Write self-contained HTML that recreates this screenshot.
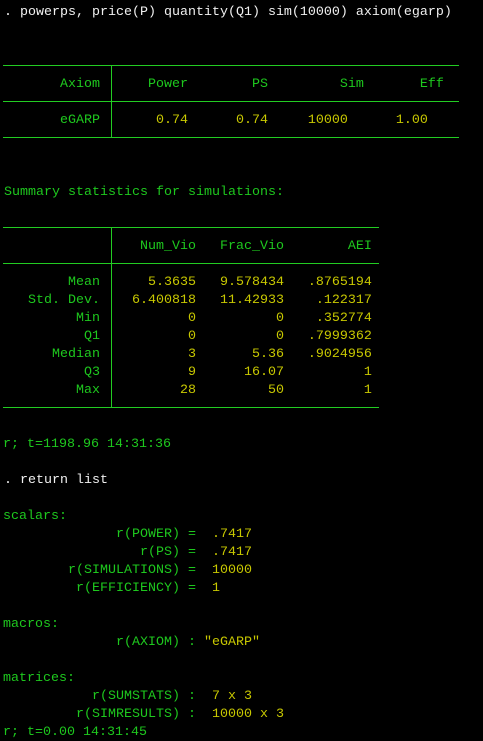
<!DOCTYPE html>
<html><head><meta charset="utf-8">
<style>
html,body{margin:0;padding:0;background:#000;width:483px;height:741px;overflow:hidden}
.c{position:relative;width:483px;height:741px;background:#000}
.l{position:absolute;left:4px;margin:0;padding-top:2px;white-space:pre;font-family:"Liberation Mono",monospace;font-size:13.33px;line-height:18px;height:18px;color:#1ec81e}
.w{color:#f0f0f0}.y{color:#c8c800}.g{color:#1ec81e}
.h{position:absolute;height:1px;background:#22cc22}
.v{position:absolute;width:1px;background:#22cc22}
</style></head><body>
<div class="c">
<pre class="l w" style="top:2px">. powerps, price(P) quantity(Q1) sim(10000) axiom(egarp)</pre>

<div class="h" style="left:3px;width:456px;top:65px"></div>
<div class="v" style="left:111px;top:65px;height:72px"></div>
<pre class="l" style="top:74px">       Axiom      Power        PS         Sim       Eff</pre>
<div class="h" style="left:3px;width:456px;top:101px"></div>
<pre class="l" style="top:110px">       eGARP       <span class="y">0.74      0.74     10000      1.00</span></pre>
<div class="h" style="left:3px;width:456px;top:137px"></div>

<pre class="l" style="top:182px">Summary statistics for simulations:</pre>

<div class="h" style="left:3px;width:376px;top:227px"></div>
<div class="v" style="left:111px;top:227px;height:180px"></div>
<pre class="l" style="top:236px">                 Num_Vio   Frac_Vio        AEI</pre>
<div class="h" style="left:3px;width:376px;top:263px"></div>
<pre class="l" style="top:272px">        Mean<span class="y">      5.3635   9.578434   .8765194</span></pre>
<pre class="l" style="top:290px">   Std. Dev.<span class="y">    6.400818   11.42933    .122317</span></pre>
<pre class="l" style="top:308px">         Min<span class="y">           0          0    .352774</span></pre>
<pre class="l" style="top:326px">          Q1<span class="y">           0          0   .7999362</span></pre>
<pre class="l" style="top:344px">      Median<span class="y">           3       5.36   .9024956</span></pre>
<pre class="l" style="top:362px">          Q3<span class="y">           9      16.07          1</span></pre>
<pre class="l" style="top:380px">         Max<span class="y">          28         50          1</span></pre>
<div class="h" style="left:3px;width:376px;top:407px"></div>

<pre class="l" style="top:434px;left:3px">r; t=1198.96 14:31:36</pre>
<pre class="l w" style="top:470px">. return list</pre>
<pre class="l" style="top:506px;left:3px">scalars:</pre>
<pre class="l" style="top:524px">              r(POWER) =  <span class="y">.7417</span></pre>
<pre class="l" style="top:542px">                 r(PS) =  <span class="y">.7417</span></pre>
<pre class="l" style="top:560px">        r(SIMULATIONS) =  <span class="y">10000</span></pre>
<pre class="l" style="top:578px">         r(EFFICIENCY) =  <span class="y">1</span></pre>
<pre class="l" style="top:614px;left:3px">macros:</pre>
<pre class="l" style="top:632px">              r(AXIOM) : <span class="y">"eGARP"</span></pre>
<pre class="l" style="top:668px;left:3px">matrices:</pre>
<pre class="l" style="top:686px">           r(SUMSTATS) :  <span class="y">7 x 3</span></pre>
<pre class="l" style="top:704px">         r(SIMRESULTS) :  <span class="y">10000 x 3</span></pre>
<pre class="l" style="top:722px;left:3px">r; t=0.00 14:31:45</pre>
</div>
</body></html>
